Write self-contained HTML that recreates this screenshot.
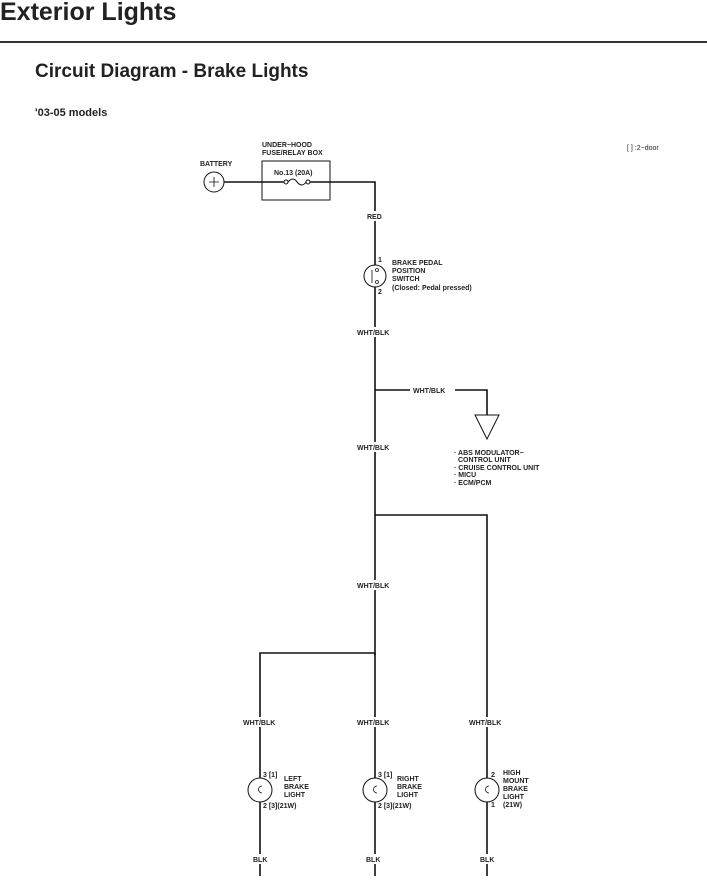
<!DOCTYPE html>
<html><head><style>
body{margin:0;background:#fff;width:707px;height:876px;overflow:hidden;font-family:"Liberation Sans",sans-serif}
</style></head><body>
<svg width="707" height="876" xmlns="http://www.w3.org/2000/svg" font-family="Liberation Sans, sans-serif">
<text x="0" y="20" font-size="25" font-weight="bold" fill="#222">Exterior Lights</text>
<line x1="0" y1="42" x2="707" y2="42" stroke="#333" stroke-width="2"/>
<text x="35" y="77" font-size="19" font-weight="bold" fill="#222">Circuit Diagram - Brake Lights</text>
<text x="35" y="116" font-size="11" font-weight="bold" fill="#222">'03-05 models</text>
<text x="627" y="150" font-size="7" fill="#222">[  ] :2−door</text>
<g fill="none" stroke="#111" stroke-width="1.6">
<circle cx="214" cy="182" r="10" stroke-width="1"/>
<path d="M209 182h10M214 177v10" stroke-width="0.8"/>
<rect x="262" y="161" width="68" height="39" stroke-width="1"/>
<path d="M224 182H284M310 182H375V655"/>
<path d="M288 182q5 -6 9 0q5 6 9 0" stroke-width="1"/>
<path d="M375 390H410M455 390H487V415"/>
<path d="M475 415h24l-12 24z" stroke-width="1"/>
<path d="M375 515H487V876"/>
<path d="M375 653H260V876M375 653V876"/>
</g>
<g fill="#fff" stroke="#111" stroke-width="1">
<circle cx="286" cy="182" r="2"/><circle cx="308" cy="182" r="2"/>
<circle cx="375" cy="276" r="11"/>
<circle cx="260" cy="790" r="12"/><circle cx="375" cy="790" r="12"/><circle cx="487" cy="790" r="12"/>
</g>
<g fill="#fff" stroke="#111" stroke-width="0.8">
<circle cx="377" cy="270" r="1.5"/><circle cx="377" cy="282" r="1.5"/><line x1="372" y1="270" x2="372" y2="283"/>
<path d="M262 786a3 3 0 1 0 0 7"/><path d="M377 786a3 3 0 1 0 0 7"/><path d="M489 786a3 3 0 1 0 0 7"/>
</g>
<g fill="#fff">
<rect x="365" y="211" width="18" height="10"/>
<rect x="355" y="327" width="36" height="10"/><rect x="355" y="442" width="36" height="10"/><rect x="355" y="580" width="36" height="10"/>
<rect x="241" y="717" width="36" height="10"/><rect x="355" y="717" width="36" height="10"/><rect x="467" y="717" width="36" height="10"/>
<rect x="251" y="854" width="18" height="10"/><rect x="364" y="854" width="18" height="10"/><rect x="478" y="854" width="18" height="10"/>
</g>
<g font-size="7" font-weight="bold" fill="#222">
<text x="262" y="147">UNDER−HOOD</text><text x="262" y="155">FUSE/RELAY BOX</text>
<text x="200" y="166">BATTERY</text>
<text x="274" y="175">No.13 (20A)</text>
<text x="367" y="219">RED</text>
<text x="378" y="262">1</text><text x="378" y="294">2</text>
<text x="392" y="265">BRAKE PEDAL</text><text x="392" y="273">POSITION</text><text x="392" y="281">SWITCH</text><text x="392" y="290">(Closed: Pedal pressed)</text>
<text x="357" y="335">WHT/BLK</text>
<text x="413" y="393">WHT/BLK</text>
<text x="357" y="450">WHT/BLK</text>
<text x="454" y="455">· ABS MODULATOR−</text><text x="458" y="462">CONTROL UNIT</text><text x="454" y="470">· CRUISE CONTROL UNIT</text><text x="454" y="477">· MICU</text><text x="454" y="485">· ECM/PCM</text>
<text x="357" y="588">WHT/BLK</text>
<text x="243" y="725">WHT/BLK</text><text x="357" y="725">WHT/BLK</text><text x="469" y="725">WHT/BLK</text>
<text x="263" y="777">3  [1]</text><text x="284" y="781">LEFT</text><text x="284" y="789">BRAKE</text><text x="284" y="797">LIGHT</text><text x="263" y="808">2  [3](21W)</text>
<text x="378" y="777">3  [1]</text><text x="397" y="781">RIGHT</text><text x="397" y="789">BRAKE</text><text x="397" y="797">LIGHT</text><text x="378" y="808">2  [3](21W)</text>
<text x="491" y="777">2</text><text x="503" y="775">HIGH</text><text x="503" y="783">MOUNT</text><text x="503" y="791">BRAKE</text><text x="503" y="799">LIGHT</text><text x="503" y="807">(21W)</text><text x="491" y="807">1</text>
<text x="253" y="862">BLK</text><text x="366" y="862">BLK</text><text x="480" y="862">BLK</text>
</g>
</svg>
</body></html>
